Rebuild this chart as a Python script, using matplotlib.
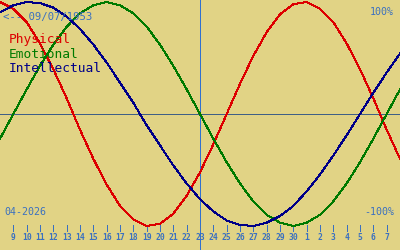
import numpy as np
import matplotlib
matplotlib.use("Agg")
import matplotlib.pyplot as plt

# biorhythm values (%) per day, from 8 April to 8 May 2026
physical = [100, 94, 82, 63, 40, 14, -14, -40, -63, -82, -94, -100, -98, -89,
            -73, -52, -27, 0, 27, 52, 73, 89, 98, 100, 94, 82, 63, 40, 14, -14, -40]
emotional = [-22, 0, 22, 43, 62, 78, 90, 97, 100, 97, 90, 78, 62, 43, 22, 0,
             -22, -43, -62, -78, -90, -97, -100, -97, -90, -78, -62, -43, -22, 0, 22]
intellectual = [91, 97, 100, 99, 95, 87, 76, 62, 46, 28, 10, -10, -28, -46, -62,
                -76, -87, -95, -99, -100, -97, -91, -82, -69, -54, -37, -19, 0, 19, 37, 54]
day_labels = [str(d) for d in range(9, 31)] + [str(d) for d in range(1, 8)]
today = 14  # index of 23 April
names = ['Physical', 'Emotional', 'Intellectual']
colors = ['#dd0000', '#007a00', '#000088']

bg = '#e1d385'
txt_blue = '#3a70c0'
mono = 'DejaVu Sans Mono'

fig = plt.figure(figsize=(4, 2.5), dpi=100, facecolor=bg)
ax = fig.add_axes([0, 0, 1, 1])
ax.set_facecolor(bg)
ax.set_xlim(-1, 29)
ax.set_ylim(-121.4, 101.8)
ax.axis('off')

days = np.arange(-1, len(physical) - 1)
for vals, c in zip([physical, emotional, intellectual], colors):
    ax.plot(days, vals, color=c, lw=0.72, antialiased=False, zorder=3)

ax.axhline(0, color='#3f5f86', lw=0.72, antialiased=False, zorder=2)
ax.axvline(today, color='#3070d0', lw=0.72, antialiased=False, zorder=2)

# day ticks along the bottom
for i, lab in enumerate(day_labels):
    ax.plot([i, i], [-99.5, -104.5], color=txt_blue, lw=0.72, antialiased=False)
    ax.text(i, -109.8, lab, color=txt_blue, fontsize=5.8, fontweight='bold',
            family=mono, ha='center', va='center')

def px(x, y):
    return x / 400, 1 - y / 250

fig.text(*px(3, 17), '<-- 09/07/1953', color=txt_blue, fontsize=7.7,
         family=mono, ha='left', va='center')
for k, (n, c) in enumerate(zip(names, colors)):
    fig.text(*px(9, 39 + k * 15), n, color=c, fontsize=9.3, family=mono,
             ha='left', va='center')
fig.text(*px(394, 12), '100%', color=txt_blue, fontsize=7.2, family=mono,
         ha='right', va='center')
fig.text(*px(394, 212), '-100%', color=txt_blue, fontsize=7.2, family=mono,
         ha='right', va='center')
fig.text(*px(4, 212), '04-2026', color=txt_blue, fontsize=7.2, family=mono,
         ha='left', va='center')

fig.savefig('out.png', dpi=100, facecolor=bg)
